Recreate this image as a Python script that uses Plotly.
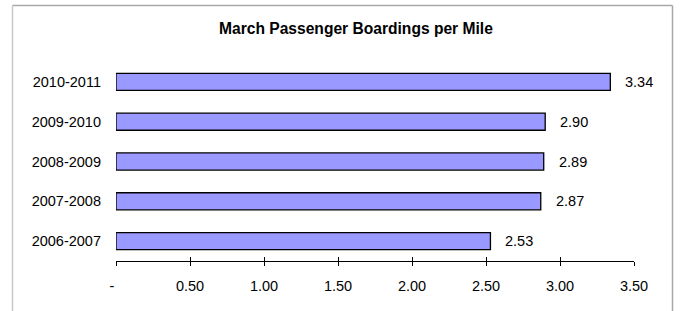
import plotly.graph_objects as go

categories = ["2006-2007", "2007-2008", "2008-2009", "2009-2010", "2010-2011"]
values = [2.53, 2.87, 2.89, 2.90, 3.34]
value_labels = ["2.53", "2.87", "2.89", "2.90", "3.34"]
tick_vals = [0, 0.5, 1.0, 1.5, 2.0, 2.5, 3.0, 3.5]
tick_text = ["-\u00a0\u00a0", "0.50", "1.00", "1.50", "2.00", "2.50", "3.00", "3.50"]
title_text = "March Passenger Boardings per Mile"

W, H = 681, 311
L, R, T, B = 116, 47, 62, 50
pw, ph = W - L - R, H - T - B

def px_x(p):
    return (p - L) / pw

def px_y(p):
    return (H - B - p) / ph

FONT = "Liberation Sans, Arial, sans-serif"

fig = go.Figure()
fig.add_trace(go.Bar(
    x=values, y=categories, orientation="h",
    marker=dict(color="#9999FF", line=dict(color="#000000", width=1.3)),
    width=0.43, hoverinfo="skip",
))
# invisible trace on overlaid axis for inward ticks
fig.add_trace(go.Scatter(x=[None], y=[None], xaxis="x2", yaxis="y", showlegend=False))

for v, t, c in zip(values, value_labels, categories):
    fig.add_annotation(x=v, y=c, text=t, showarrow=False, xanchor="left",
                       xshift=13, font=dict(family=FONT, size=14.5, color="#000"))

fig.add_annotation(xref="paper", yref="paper", x=px_x(356), y=px_y(28.5),
                   text="<b>" + title_text + "</b>", showarrow=False,
                   xanchor="center", yanchor="middle",
                   font=dict(family=FONT, size=15.6, color="#000"))

# outer frame (three visible sides)
frame_line = dict(color="#a8a8a8", width=1.5)
fig.add_shape(type="line", xref="paper", yref="paper",
              x0=px_x(12.5), x1=px_x(672.5), y0=px_y(5.5), y1=px_y(5.5), line=frame_line)
fig.add_shape(type="line", xref="paper", yref="paper",
              x0=px_x(12.5), x1=px_x(12.5), y0=px_y(5.5), y1=px_y(330), line=dict(color="#c8c8c8", width=1.5))
fig.add_shape(type="line", xref="paper", yref="paper",
              x0=px_x(672.5), x1=px_x(672.5), y0=px_y(5.5), y1=px_y(330), line=frame_line)

fig.update_layout(
    width=W, height=H,
    margin=dict(l=L, r=R, t=T, b=B, pad=0),
    paper_bgcolor="white", plot_bgcolor="white",
    showlegend=False,
    font=dict(family=FONT, size=14.5, color="#000"),
    xaxis=dict(range=[0, 3.5], tickvals=tick_vals, ticktext=tick_text,
               showgrid=False, zeroline=False, showline=True, linecolor="#000",
               linewidth=1, ticks="outside", ticklen=4, tickcolor="#000", tickwidth=1,
               ticklabelstandoff=8, fixedrange=True, automargin=False),
    xaxis2=dict(range=[0, 3.5], overlaying="x", side="bottom", anchor="y",
                tickvals=tick_vals, showticklabels=False, showgrid=False,
                zeroline=False, ticks="inside", ticklen=4, tickcolor="#000",
                tickwidth=1, showline=False),
    yaxis=dict(range=[-0.5, 4.5], showgrid=False, zeroline=False, showline=False,
               ticks="", ticklabelstandoff=14, fixedrange=True, automargin=False),
)

fig.write_html("out.html", config={"displayModeBar": False, "staticPlot": True},
               post_script="document.body.style.margin='0';")
